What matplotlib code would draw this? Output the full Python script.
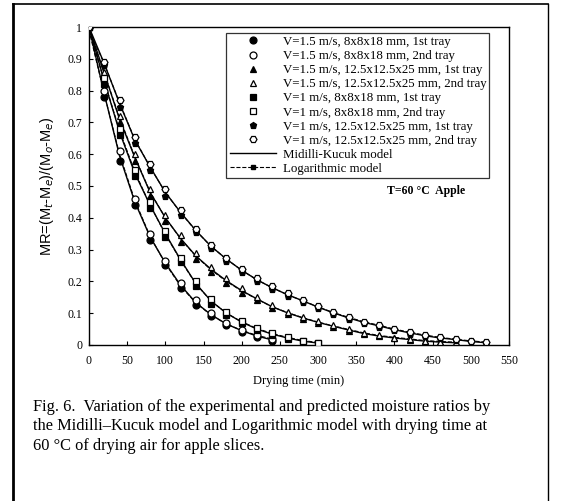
import matplotlib
matplotlib.use('Agg')
import matplotlib.pyplot as plt
from matplotlib.lines import Line2D

# drying time (min), 20 min steps
tA = [0, 20, 40, 60, 80, 100, 120, 140, 160, 180, 200, 220, 240]
tB = [0, 20, 40, 60, 80, 100, 120, 140, 160, 180, 200, 220, 240, 260, 280, 300]
tC = [0, 20, 40, 60, 80, 100, 120, 140, 160, 180, 200, 220, 240, 260, 280, 300,
      320, 340, 360, 380, 400, 420, 440, 460, 480]
tD = [0, 20, 40, 60, 80, 100, 120, 140, 160, 180, 200, 220, 240, 260, 280, 300,
      320, 340, 360, 380, 400, 420, 440, 460, 480, 500, 520]

# experimental moisture ratios
A1 = [1.0, 0.78, 0.58, 0.44, 0.33, 0.25, 0.18, 0.125, 0.09, 0.062, 0.042, 0.026, 0.014]
A2 = [1.0, 0.80, 0.61, 0.46, 0.35, 0.265, 0.195, 0.14, 0.10, 0.07, 0.048, 0.03, 0.018]
B1 = [1.0, 0.82, 0.66, 0.53, 0.43, 0.34, 0.26, 0.185, 0.13, 0.095, 0.068, 0.047,
      0.032, 0.02, 0.011, 0.005]
B2 = [1.0, 0.84, 0.68, 0.55, 0.45, 0.36, 0.275, 0.2, 0.145, 0.105, 0.076, 0.054,
      0.037, 0.024, 0.014, 0.007]
C1 = [1.0, 0.85, 0.70, 0.58, 0.47, 0.39, 0.325, 0.27, 0.23, 0.195, 0.165, 0.14,
      0.115, 0.097, 0.082, 0.068, 0.056, 0.044, 0.034, 0.027, 0.021, 0.016, 0.012,
      0.009, 0.007]
C2 = [1.0, 0.86, 0.72, 0.60, 0.49, 0.41, 0.345, 0.29, 0.245, 0.21, 0.178, 0.15,
      0.125, 0.105, 0.088, 0.074, 0.062, 0.05, 0.039, 0.03, 0.023, 0.018, 0.013,
      0.01, 0.008]
D1 = [1.0, 0.88, 0.75, 0.635, 0.55, 0.47, 0.41, 0.355, 0.305, 0.265, 0.23, 0.2,
      0.176, 0.155, 0.136, 0.116, 0.098, 0.083, 0.069, 0.058, 0.046, 0.036, 0.028,
      0.021, 0.016, 0.011, 0.007]
D2 = [1.0, 0.89, 0.77, 0.655, 0.57, 0.49, 0.425, 0.365, 0.315, 0.275, 0.24, 0.21,
      0.184, 0.162, 0.142, 0.122, 0.104, 0.088, 0.073, 0.062, 0.05, 0.04, 0.031,
      0.024, 0.018, 0.012, 0.008]

# predicted values
mkA = [1.0, 0.79, 0.595, 0.45, 0.34, 0.258, 0.188, 0.133, 0.095, 0.066, 0.045, 0.028, 0.016]
mkB = [1.0, 0.83, 0.67, 0.54, 0.44, 0.35, 0.268, 0.193, 0.138, 0.1, 0.072, 0.05,
       0.034, 0.022, 0.012, 0.006]
mkC = [1.0, 0.855, 0.71, 0.59, 0.48, 0.40, 0.335, 0.28, 0.238, 0.202, 0.171, 0.145,
       0.12, 0.101, 0.085, 0.071, 0.059, 0.047, 0.036, 0.028, 0.022, 0.017, 0.012,
       0.009, 0.007]
mkD = [1.0, 0.885, 0.76, 0.645, 0.56, 0.48, 0.417, 0.36, 0.31, 0.27, 0.235, 0.205,
       0.18, 0.158, 0.139, 0.119, 0.101, 0.085, 0.071, 0.06, 0.048, 0.038, 0.029,
       0.022, 0.017, 0.011, 0.007]
lgA = [0.99, 0.79, 0.6, 0.455, 0.342, 0.256, 0.185, 0.132, 0.094, 0.066, 0.046, 0.03, 0.019]
lgB = [0.99, 0.83, 0.675, 0.545, 0.44, 0.348, 0.266, 0.192, 0.138, 0.1, 0.073, 0.052,
       0.036, 0.024, 0.014, 0.008]
lgC = [0.99, 0.855, 0.715, 0.592, 0.482, 0.4, 0.334, 0.279, 0.236, 0.2, 0.17, 0.144,
       0.12, 0.102, 0.086, 0.072, 0.06, 0.049, 0.038, 0.03, 0.024, 0.019, 0.014,
       0.011, 0.009]
lgD = [0.99, 0.885, 0.762, 0.647, 0.56, 0.48, 0.416, 0.359, 0.31, 0.27, 0.235, 0.205,
       0.18, 0.158, 0.139, 0.12, 0.102, 0.087, 0.073, 0.062, 0.05, 0.04, 0.031,
       0.024, 0.018, 0.013, 0.009]

labels = [
    'V=1.5 m/s, 8x8x18 mm, 1st tray',
    'V=1.5 m/s, 8x8x18 mm, 2nd tray',
    'V=1.5 m/s, 12.5x12.5x25 mm, 1st tray',
    'V=1.5 m/s, 12.5x12.5x25 mm, 2nd tray',
    'V=1 m/s, 8x8x18 mm, 1st tray',
    'V=1 m/s, 8x8x18 mm, 2nd tray',
    'V=1 m/s, 12.5x12.5x25 mm, 1st tray',
    'V=1 m/s, 12.5x12.5x25 mm, 2nd tray',
]

serif = 'Liberation Serif'
plt.rcParams['font.family'] = serif

fig = plt.figure(figsize=(5.61, 5.01), dpi=100)
ax = fig.add_axes([0.1586, 0.3114, 0.7487, 0.6347])

# model curves
for t, mk, lg in [(tA, mkA, lgA), (tB, mkB, lgB), (tC, mkC, lgC), (tD, mkD, lgD)]:
    ax.plot(t, mk, color='black', lw=1.0, zorder=2)
    ax.plot(t, lg, color='black', lw=0.8, ls='--', zorder=2)

# experimental points
series = [(tA, A1, 'o', 'black'), (tA, A2, 'o', 'white'),
          (tC, C1, '^', 'black'), (tC, C2, '^', 'white'),
          (tB, B1, 's', 'black'), (tB, B2, 's', 'white'),
          (tD, D1, 'p', 'black'), (tD, D2, 'H', 'white')]
handles = []
for (t, y, m, fc), lab in zip(series, labels):
    h, = ax.plot(t, y, ls='none', marker=m, ms=5, mfc=fc, mec='black',
                 mew=0.9, zorder=3, label=lab)
    handles.append(h)

handles.append(Line2D([], [], color='black', lw=1.0, label='Midilli-Kucuk model'))
handles.append(Line2D([], [], color='black', lw=0.8, ls='--', marker='s', ms=3,
                      label='Logarithmic model'))

leg = ax.legend(handles=handles, loc='upper left', bbox_to_anchor=(0.327, 0.982),
                fontsize=9.3, frameon=True, fancybox=False, edgecolor='black',
                handlelength=3.6, labelspacing=0.16, borderpad=0.25,
                handletextpad=0.5, borderaxespad=0)
leg.get_frame().set_linewidth(0.9)

ax.text(0.71, 0.484, 'T=60 °C  Apple', transform=ax.transAxes, fontsize=8.5,
        fontweight='bold', family=serif, va='center')

ax.set_xlim(0, 550)
ax.set_ylim(0, 1)
ax.set_xticks(range(0, 551, 50))
ax.set_yticks([0, 0.1, 0.2, 0.3, 0.4, 0.5, 0.6, 0.7, 0.8, 0.9, 1])
ax.set_yticklabels(['0', '0.1', '0.2', '0.3', '0.4', '0.5', '0.6', '0.7', '0.8', '0.9', '1'])
ax.tick_params(direction='in', length=3, width=0.8, labelsize=8.5, pad=5)
ax.tick_params(axis='x', pad=7)
for s in ax.spines.values():
    s.set_linewidth(1.0)

ax.set_xlabel('Drying time (min)', fontsize=9, labelpad=6)
ax.set_ylabel(r'MR=(M$_t$-M$_e$)/(M$_o$-M$_e$)', fontsize=10.5,
              family='Liberation Sans', labelpad=8)

# caption
caption = ('Fig. 6.  Variation of the experimental and predicted moisture ratios by\n'
           'the Midilli–Kucuk model and Logarithmic model with drying time at\n'
           '60 °C of drying air for apple slices.')
fig.text(33 / 561, 1 - 399 / 501, caption, fontsize=11.8, va='top', ha='left',
         linespacing=1.28, family=serif)

# page frame
fig.add_artist(Line2D([13 / 561, 13 / 561], [0, 1 - 4 / 501], transform=fig.transFigure,
                      color='black', lw=2.0))
fig.add_artist(Line2D([13 / 561, 548 / 561], [1 - 4 / 501, 1 - 4 / 501],
                      transform=fig.transFigure, color='black', lw=1.2))
fig.add_artist(Line2D([548 / 561, 548 / 561], [0, 1 - 4 / 501], transform=fig.transFigure,
                      color='black', lw=1.0))

fig.savefig('out.png', dpi=100)
